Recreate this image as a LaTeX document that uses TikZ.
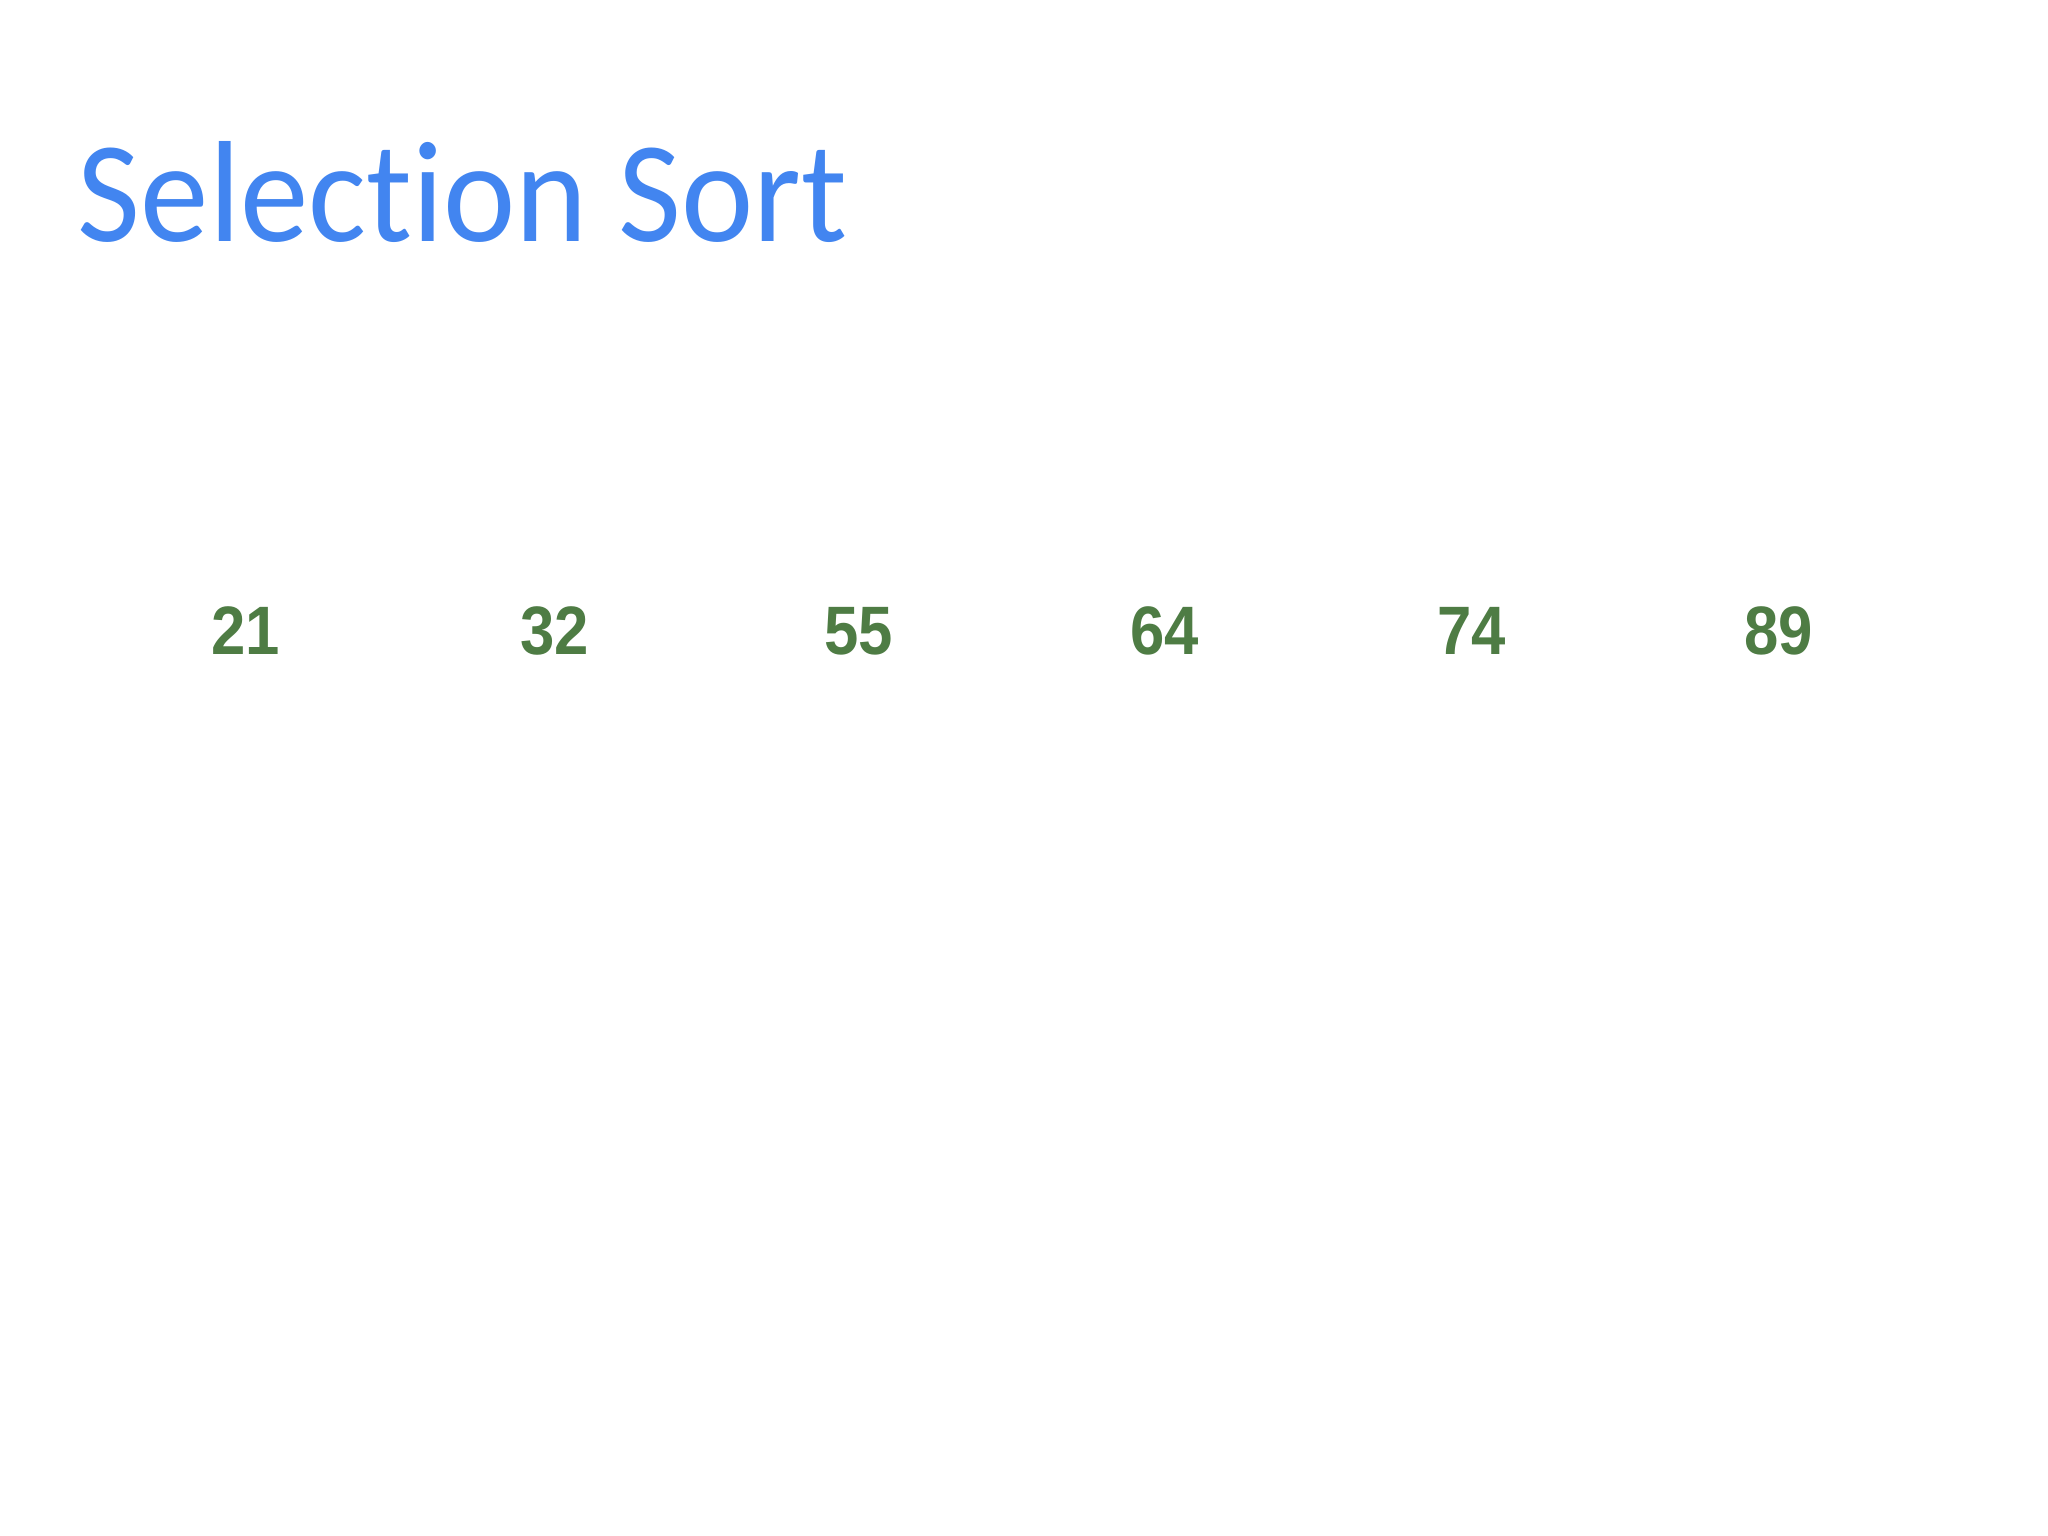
\documentclass[tikz,border=0pt]{standalone}
\usepackage{fontspec}
\setmainfont{Carlito}[Ligatures=NoCommon, FakeStretch=0.95]
\newfontfamily\numfont{Liberation Sans}[FakeStretch=0.9]
\usepackage{tikz}
\definecolor{titleblue}{RGB}{66,133,240}
\definecolor{numgreen}{RGB}{78,124,68}
\tikzset{
    every node/.style={inner sep=0pt, outer sep=0pt}
}
\tikzset{
    numlabel/.style={text=numgreen, font=\numfont\bfseries\fontsize{19.5}{19.5}\selectfont}
}

\begin{document}
\begin{tikzpicture}
  \fill[white] (0cm,0cm) rectangle (20.48cm,-15.36cm);
  \useasboundingbox (0cm,0cm) rectangle (20.48cm,-15.36cm);

  \node (title) [anchor=base west, text=titleblue,
  	font=\fontsize{41}{41}\selectfont] at (0.78cm,-2.42cm) {Selection Sort};

  \node (n1) [numlabel] at (2.455cm,-6.31cm) {21};
  
  \node (n2) [numlabel] at (5.55cm,-6.31cm) {32};
  
  \node (n3) [numlabel] at (8.59cm,-6.31cm) {55};
  
  \node (n4) [numlabel] at (11.65cm,-6.31cm) {64};
  
  \node (n5) [numlabel] at (14.72cm,-6.31cm) {74};
  
  \node (n6) [numlabel] at (17.79cm,-6.31cm) {89};
\end{tikzpicture}
\end{document}
